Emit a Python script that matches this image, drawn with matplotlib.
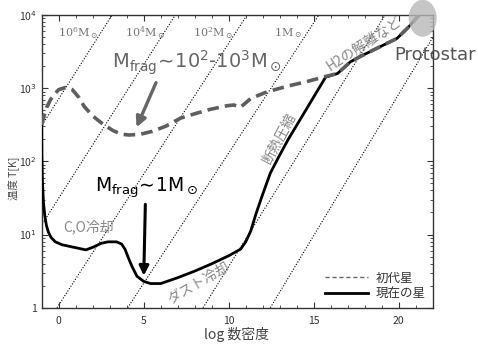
import matplotlib
matplotlib.use("Agg")
import matplotlib.pyplot as plt
from matplotlib.lines import Line2D
from matplotlib.patches import Ellipse
from matplotlib.ticker import MultipleLocator, FixedLocator, FixedFormatter, LogLocator, NullFormatter
import numpy as np

plt.rcParams['font.family'] = ['Noto Sans CJK JP', 'DejaVu Sans']

# ---------------- data ----------------
# first stars (Pop III), log n vs log T
pop3_logn = [-1.0, -0.88, -0.7, -0.49, -0.2, 0.0, 0.4, 0.8, 1.2, 1.5, 2.0, 2.65, 3.2, 3.7, 4.15,
             4.8, 5.5, 6.3, 7.16, 8.0, 8.9, 9.9, 10.3, 10.7, 11.3, 12.26, 13.5, 14.6, 15.7,
             16.4, 17.16, 17.8, 18.5, 19.2, 19.9, 20.6, 21.2]
pop3_logT = [2.50, 2.61, 2.74, 2.84, 2.93, 2.98, 3.01, 2.98, 2.87, 2.75, 2.62, 2.50, 2.42, 2.37, 2.36,
             2.37, 2.41, 2.48, 2.59, 2.65, 2.71, 2.76, 2.77, 2.74, 2.86, 2.95, 3.03, 3.09, 3.16,
             3.20, 3.36, 3.44, 3.52, 3.60, 3.68, 3.84, 4.00]

# present-day stars
pop1_logn = [-1.0, -0.99, -0.96, -0.9, -0.82, -0.72, -0.6, -0.45, -0.2, 0.2, 0.8, 1.6, 2.05, 2.5,
             2.9, 3.4, 3.7, 3.9, 4.1, 4.3, 4.6, 5.0, 5.4, 6.0, 7.0, 8.0, 9.0, 10.0, 10.7, 11.0,
             11.3, 11.6, 12.0, 12.45, 12.94, 13.5, 14.2, 15.0, 15.7, 16.4, 17.16, 17.8, 18.5,
             19.2, 19.9, 20.6, 21.2]
pop1_logT = [2.50, 2.10, 1.75, 1.45, 1.26, 1.12, 1.03, 0.96, 0.90, 0.86, 0.83, 0.79, 0.83, 0.88,
             0.90, 0.90, 0.87, 0.80, 0.68, 0.57, 0.43, 0.36, 0.33, 0.33, 0.41, 0.50, 0.60, 0.71, 0.80, 0.90,
             1.05, 1.28, 1.55, 1.84, 2.06, 2.30, 2.57, 2.88, 3.15, 3.20, 3.36, 3.44, 3.52,
             3.60, 3.68, 3.84, 4.00]

# Jeans-mass reference lines: log n where T = 1 K and where T = 1e4 K
jeans_logn_T1 = [-7.82, -4.1, -0.1, 4.06, 8.49, 12.45]
jeans_logn_T4 = [3.14, 6.86, 11.08, 15.3, 19.2, 22.8]
jeans_labels = ["10$^6$M$_\\odot$", "10$^4$M$_\\odot$", "10$^2$M$_\\odot$", "1M$_\\odot$"]
jeans_label_logn = [1.16, 5.1, 9.1, 13.5]

xticks = [0, 5, 10, 15, 20]
yticks = [1, 10, 100, 1000, 10000]
yticklabels = ["1", "10$^1$", "10$^2$", "10$^3$", "10$^4$"]
legend_labels = ["初代星", "現在の星"]

W, H = 478, 352
fig = plt.figure(figsize=(W / 100, H / 100), dpi=100)
ax = fig.add_axes([41.7 / W, 1 - 307.7 / H, (432.7 - 41.7) / W, (307.7 - 15) / H])
ax.set_yscale('log')
ax.set_xlim(-1, 22)
ax.set_ylim(1, 1e4)

# Jeans lines
for a, b in zip(jeans_logn_T1, jeans_logn_T4):
    ax.plot([a, b], [1, 1e4], color='black', lw=0.8, ls=(0, (1, 1.5)), zorder=1)

pop3_T = [10 ** v for v in pop3_logT]
pop1_T = [10 ** v for v in pop1_logT]
ax.plot(pop1_logn, pop1_T, color='black', lw=2.0, zorder=3, solid_capstyle='round')
ax.plot(pop3_logn, pop3_T, color='#5e5e5e', lw=2.6, ls=(0, (3.2, 1.7)), zorder=4)

# ticks
ax.xaxis.set_major_locator(FixedLocator(xticks))
ax.xaxis.set_minor_locator(MultipleLocator(1))
ax.yaxis.set_major_locator(FixedLocator(yticks))
ax.yaxis.set_major_formatter(FixedFormatter(yticklabels))
ax.yaxis.set_minor_locator(LogLocator(base=10, subs=np.arange(2, 10)))
ax.yaxis.set_minor_formatter(NullFormatter())
ax.tick_params(which='both', direction='in', top=True, right=True, colors='#333333',
               labelsize=7.5, labelcolor='#333333')
ax.tick_params(which='major', length=4, width=0.8)
ax.tick_params(which='minor', length=2, width=0.6)
ax.tick_params(axis='x', pad=6)
for s in ax.spines.values():
    s.set_color('#333333')
    s.set_linewidth(1.0)

fig.text(237 / W, 1 - 335 / H, "log 数密度", ha='center', va='center', fontsize=10, color='#444444')
fig.text(13 / W, 1 - 178 / H, "温度 T[K]", ha='center', va='center', rotation=90,
         fontsize=7.5, color='#444444')

# mass labels
for lab, xn in zip(jeans_labels, jeans_label_logn):
    ax.text(xn, 10 ** 3.75, lab, ha='center', va='center', fontsize=8, color='#777777',
            family='DejaVu Serif', math_fontfamily='dejavuserif')

# annotations
ax.text(3.14, 10 ** 3.34, "M$_{\\rm frag}$$\\!\\sim\\!$10$^2$-10$^3$M$_\\odot$", ha='left', va='center',
        fontsize=14, color='#666666', family='DejaVu Sans')
ax.annotate("", xy=(4.51, 10 ** 2.43), xytext=(5.79, 10 ** 3.11),
            arrowprops=dict(arrowstyle='-|>', color='#666666', lw=2.4, mutation_scale=15))
ax.text(2.16, 10 ** 1.64, "M$_{\\rm frag}$$\\!\\sim\\!$1M$_\\odot$", ha='left', va='center',
        fontsize=13.5, color='black', family='DejaVu Sans')
ax.annotate("", xy=(5.0, 10 ** 0.40), xytext=(5.1, 10 ** 1.45),
            arrowprops=dict(arrowstyle='-|>', color='black', lw=2.2, mutation_scale=14))

ax.text(1.77, 10 ** 1.11, "C,O冷却", ha='center', va='center', fontsize=10, color='#888888')
ax.text(8.22, 10 ** 0.33, "ダスト冷却", ha='center', va='center', fontsize=10, color='#888888',
        rotation=30)
ax.text(12.98, 10 ** 2.32, "断熱圧縮", ha='center', va='center', fontsize=10, color='#888888',
        rotation=62)
ax.text(17.98, 10 ** 3.60, "H2の解離など", ha='center', va='center', fontsize=10, color='#888888',
        rotation=33)

# legend
handles = [Line2D([], [], color='#666666', lw=1.0, ls=(0, (3, 2))),
           Line2D([], [], color='black', lw=2.0)]
ax.legend(handles, legend_labels, loc='lower right', bbox_to_anchor=(1.01, -0.015), frameon=False,
          fontsize=9, handlelength=3.4, handletextpad=0.6, labelspacing=0.25, labelcolor='#333333')

# protostar marker
ell = Ellipse((422.7 / W, 1 - 18.3 / H), 28 / W, 37 / H, transform=fig.transFigure,
              facecolor='#b8b8b8', edgecolor='none', alpha=0.8, zorder=10)
fig.add_artist(ell)
fig.text(476 / W, 1 - 55 / H, "Protostar", ha='right', va='center', fontsize=13, color='#555555',
         family='DejaVu Sans')

fig.savefig("out.png", dpi=100)
